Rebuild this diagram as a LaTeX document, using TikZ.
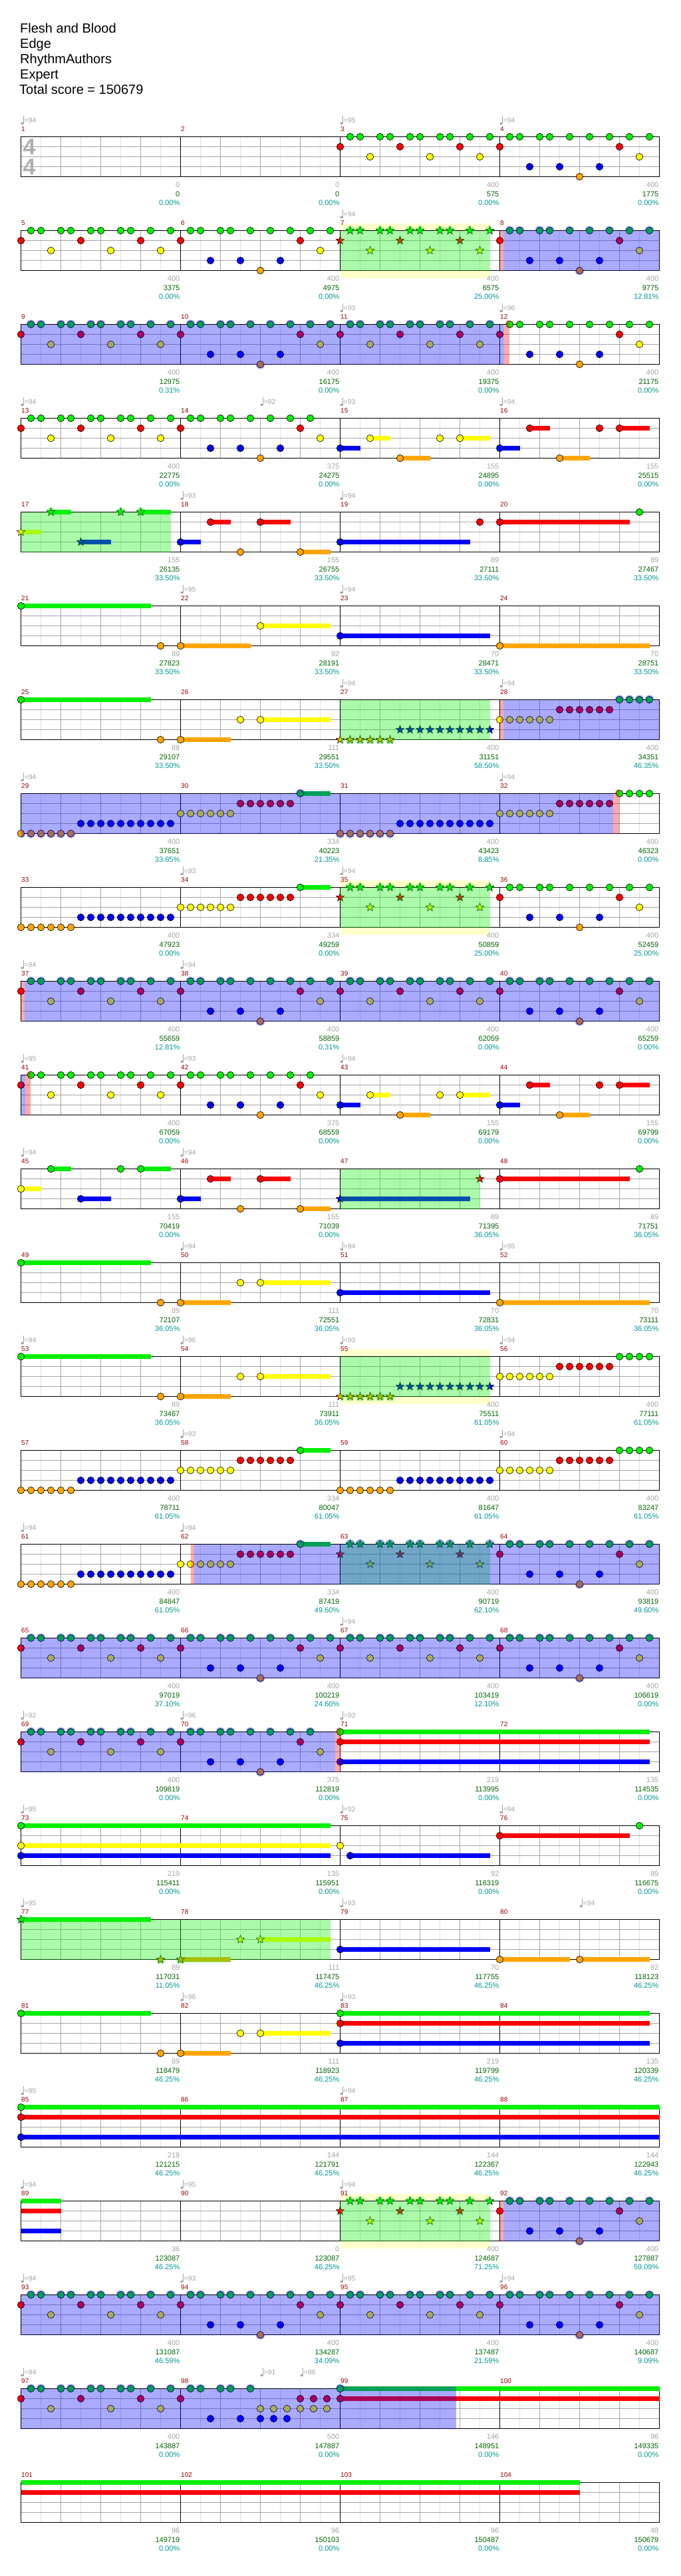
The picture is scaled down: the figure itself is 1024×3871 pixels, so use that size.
\documentclass[tikz,border=0pt]{standalone}
\usepackage{fontspec}
\setmainfont{Liberation Sans}
\usetikzlibrary{shapes.geometric}

\definecolor{fretG}{RGB}{0,240,0}
\definecolor{fretR}{RGB}{255,0,0}
\definecolor{fretY}{RGB}{255,255,0}
\definecolor{fretB}{RGB}{0,0,255}
\definecolor{fretO}{RGB}{255,165,0}
\definecolor{barred}{RGB}{150,0,0}
\definecolor{labelgray}{RGB}{165,165,165}
\definecolor{scoregreen}{RGB}{0,100,0}
\definecolor{pctteal}{RGB}{0,150,150}
\definecolor{phrasebg}{RGB}{255,255,204}
\definecolor{gridlight}{RGB}{225,225,225}
\definecolor{gridmid}{RGB}{165,165,165}
\definecolor{sigray}{RGB}{175,175,175}

% lane heights inside a staff
\def\laneG{0}\def\laneR{15}\def\laneY{30}\def\laneB{45}\def\laneO{60}
\newcommand{\lanepos}[1]{\csname lane#1\endcsname}

% star power zones of the current row
\newcommand{\rowzones}{}
\newcommand{\zonefill}[3]{\fill[#1] (#2,\zya) rectangle (#3,\zyb);}
\newcommand{\tintedge}{\def\zya{-9}\def\zyb{0}\rowzones\def\zya{60}\def\zyb{69}\rowzones}
\newcommand{\tintstaff}{\def\zya{0}\def\zyb{60}\rowzones}

\newcommand{\notes}[4][nt]{%
  \foreach \p in {#4}{%
    \pgfmathsetmacro{\px}{240*#2+\p}%
    \node[#1, fill=fret#3] (note) at (\px,\lanepos{#3}) {};
    \begin{scope}
      \clip (\px,\lanepos{#3}) circle[radius=7pt];
      \tintedge
    \end{scope}
  }}
\newcommand{\sus}[4]{%
  \pgfmathsetmacro{\xa}{240*#1+#3}%
  \pgfmathsetmacro{\xb}{240*#1+#4}%
  \pgfmathsetmacro{\ly}{\lanepos{#2}}%
  \fill[fret#2] (\xa,\ly-3.5) rectangle (\xb,\ly+3.5);
  \begin{scope}
    \clip (\xa,\ly-3.5) rectangle (\xb,\ly+3.5);
    \tintedge
  \end{scope}}
\newcommand{\hold}[3]{\sus{#1}{#2}{0}{#3}\notes{#1}{#2}{0}}

% riffs that repeat through the chart
\newcommand{\riffA}[2][nt]{%
  \notes[#1]{#2}{G}{15,30,60,75,105,120,150,165,195,225}%
  \notes[#1]{#2}{R}{0,90,180}\notes[#1]{#2}{Y}{45,135,210}}
\newcommand{\riffB}[1]{%
  \notes{#1}{G}{15,30,60,75,105,135,165,195,225}%
  \notes{#1}{R}{0,180}\notes{#1}{Y}{210}\notes{#1}{B}{45,90,150}\notes{#1}{O}{120}}
\newcommand{\riffBcut}[1]{%
  \notes{#1}{G}{15,30,60,75,105,135,165,195}%
  \notes{#1}{R}{0,180}\notes{#1}{Y}{210}\notes{#1}{B}{45,90,150}\notes{#1}{O}{120}}
\newcommand{\riffC}[1]{%
  \sus{#1}{B}{0}{30}\sus{#1}{Y}{45}{75}\sus{#1}{O}{90}{135}\sus{#1}{Y}{180}{225}%
  \notes{#1}{B}{0}\notes{#1}{Y}{45,150,180}\notes{#1}{O}{90}}
\newcommand{\riffD}[1]{%
  \sus{#1}{B}{0}{30}\sus{#1}{R}{45}{75}\sus{#1}{O}{90}{135}\sus{#1}{R}{180}{225}%
  \notes{#1}{B}{0}\notes{#1}{R}{45,150,180}\notes{#1}{O}{90}}
\newcommand{\riffE}[2][nt]{%
  \sus{#2}{Y}{0}{30}\sus{#2}{G}{45}{75}\sus{#2}{B}{90}{135}\sus{#2}{G}{180}{225}%
  \notes[#1]{#2}{Y}{0}\notes[#1]{#2}{G}{45,150,180}\notes[#1]{#2}{B}{90}}
\newcommand{\riffF}[1]{%
  \sus{#1}{B}{0}{30}\sus{#1}{R}{45}{75}\sus{#1}{R}{120}{165}\sus{#1}{O}{180}{225}%
  \notes{#1}{B}{0}\notes{#1}{R}{45,120}\notes{#1}{O}{90,180}}
\newcommand{\riffG}[1]{\sus{#1}{G}{0}{195}\notes{#1}{G}{0}\notes{#1}{O}{210}}
\newcommand{\riffH}[1]{%
  \sus{#1}{O}{0}{75}\sus{#1}{Y}{120}{225}\notes{#1}{O}{0}\notes{#1}{Y}{90,120}}
\newcommand{\riffK}[1]{%
  \notes{#1}{Y}{0,15,...,75}\notes{#1}{R}{90,105,...,165}\notes{#1}{G}{180,195,210,225}}
\newcommand{\riffL}[2][nt]{\notes[#1]{#2}{O}{0,15,...,75}\notes[#1]{#2}{B}{90,105,...,225}}
\newcommand{\riffM}[1]{%
  \sus{#1}{G}{180}{225}\notes{#1}{Y}{0,15,...,75}\notes{#1}{R}{90,105,...,165}\notes{#1}{G}{180}}

\newcommand{\staff}[1]{%
  \fill[white] (0,0) rectangle (960,60);
  \foreach \x in {30,90,...,930} \draw[gridlight, line width=0.8pt] (\x,0) -- (\x,60);
  \foreach \x in {60,120,...,900} \draw[gridmid, line width=0.8pt] (\x,0) -- (\x,60);
  \foreach \y in {15,30,45} \draw[gridmid, line width=1.1pt] (0,\y) -- (960,\y);
  \foreach \x in {240,480,720} \draw[black, line width=0.8pt] (\x,0) -- (\x,60);
  \draw[black, line width=1.3pt] (0,0) rectangle (960,60);
  \foreach \j in {0,...,3}{%
    \pgfmathtruncatemacro{\m}{#1+\j}%
    \node[barno] (bar\m) at (240*\j+0.5,-8) {\m};}}
\newcommand{\phrase}[2]{\fill[phrasebg] (#1,-10.5) rectangle (#2,71);}
\newcommand{\bpm}[2]{%
  \fill[labelgray] (#1+2,-20) ellipse[x radius=2.2pt, y radius=1.7pt];
  \draw[labelgray, line width=0.6pt] (#1+4,-20) -- (#1+4,-31.5);
  \node[bpmtext] (bpm#1) at (#1+5,-21) {=#2};}
\newcommand{\scorerow}[1]{%
  \foreach \a/\b/\c [count=\j] in {#1}{%
    \node[ptstext] (pts\j) at (240*\j-1,76) {\a};
    \node[scoretext] (score\j) at (240*\j-1,89.5) {\b};
    \node[pcttext] (pct\j) at (240*\j-1,102.5) {\c\%};}}

\begin{document}
\begin{tikzpicture}[
  x=1pt, y=-1pt,
  nt/.style={circle, draw=black, line width=0.6pt, minimum size=10.5pt, inner sep=0pt},
  st/.style={star, star points=5, star point ratio=2.3, draw=black, line width=0.5pt, minimum size=13pt, inner sep=0pt},
  rowat/.style={shift={(31.5,{205.5+141*#1})}},
  titletext/.style={anchor=base west, inner sep=0pt, font=\fontsize{20}{22}\selectfont},
  barno/.style={anchor=base west, inner sep=0pt, text=barred, font=\fontsize{10}{11}\selectfont},
  bpmtext/.style={anchor=base west, inner sep=0pt, text=labelgray, font=\fontsize{10.5}{11}\selectfont},
  ptstext/.style={anchor=base east, inner sep=0pt, text=labelgray, font=\fontsize{11}{12}\selectfont},
  scoretext/.style={anchor=base east, inner sep=0pt, text=scoregreen, font=\fontsize{11}{12}\selectfont},
  pcttext/.style={anchor=base east, inner sep=0pt, text=pctteal, font=\fontsize{11}{12}\selectfont},
  timesig/.style={inner sep=0pt, text=sigray, font=\fontsize{34}{34}\selectfont\bfseries},
  spzone/.style={fill=fretG, fill opacity=0.333},
  sazone/.style={fill=fretB, fill opacity=0.333},
  strip/.style={fill=fretR, fill opacity=0.333}
]
\useasboundingbox (0,0) rectangle (1024,3871);
\fill[white] (0,0) rectangle (1024,3871);

\node[titletext] (song) at (30,49) {Flesh and Blood};
\node[titletext] (chart) at (30,72) {Edge};
\node[titletext] (author) at (30,95) {RhythmAuthors};
\node[titletext] (level) at (30,118) {Expert};
\node[titletext] (total) at (29,141) {Total score = 150679};

% measures 1-4
\begin{scope}[rowat=0]
  \staff{1}
  \node[timesig] (sigtop) at (12.5,15.5) {4};
  \node[timesig] (sigbottom) at (12.5,45.5) {4};
  \bpm{0}{94}\bpm{480}{95}\bpm{720}{94}
  \riffA{2}\riffB{3}
  \scorerow{0/0/0.00, 0/0/0.00, 400/575/0.00, 400/1775/0.00}
\end{scope}

% measures 5-8
\begin{scope}[rowat=1]
  \renewcommand{\rowzones}{\zonefill{spzone}{480}{705}\zonefill{sazone}{725}{960}\zonefill{strip}{720}{725}}
  \phrase{480}{705}
  \staff{5}
  \bpm{480}{94}
  \riffA{0}\riffB{1}\riffA[st]{2}\riffB{3}
  \tintstaff
  \scorerow{400/3375/0.00, 400/4975/0.00, 400/6575/25.00, 400/9775/12.81}
\end{scope}

% measures 9-12
\begin{scope}[rowat=2]
  \renewcommand{\rowzones}{\zonefill{sazone}{0}{726}\zonefill{strip}{726}{734}}
  \staff{9}
  \bpm{480}{93}\bpm{720}{96}
  \riffA{0}\riffB{1}\riffA{2}\riffB{3}
  \tintstaff
  \scorerow{400/12975/0.31, 400/16175/0.00, 400/19375/0.00, 400/21175/0.00}
\end{scope}

% measures 13-16
\begin{scope}[rowat=3]
  \staff{13}
  \bpm{0}{94}\bpm{360}{92}\bpm{480}{93}\bpm{720}{94}
  \riffA{0}\riffBcut{1}\riffC{2}\riffD{3}
  \scorerow{400/22775/0.00, 375/24275/0.00, 155/24895/0.00, 155/25515/0.00}
\end{scope}

% measures 17-20
\begin{scope}[rowat=4]
  \renewcommand{\rowzones}{\zonefill{spzone}{0}{225}}
  \staff{17}
  \bpm{240}{93}\bpm{480}{94}
  \riffE[st]{0}\riffF{1}
  \hold{2}{B}{195}\notes{2}{R}{210}
  \hold{3}{R}{195}\notes{3}{G}{210}
  \tintstaff
  \scorerow{155/26135/33.50, 155/26755/33.50, 89/27111/33.50, 89/27467/33.50}
\end{scope}

% measures 21-24
\begin{scope}[rowat=5]
  \staff{21}
  \bpm{240}{95}\bpm{480}{94}
  \riffG{0}
  \sus{1}{O}{0}{105}\sus{1}{Y}{120}{225}\notes{1}{O}{0}\notes{1}{Y}{120}
  \hold{2}{B}{225}\hold{3}{O}{225}
  \scorerow{89/27823/33.50, 92/28191/33.50, 70/28471/33.50, 70/28751/33.50}
\end{scope}

% measures 25-28
\begin{scope}[rowat=6]
  \renewcommand{\rowzones}{\zonefill{spzone}{480}{705}\zonefill{sazone}{725}{960}\zonefill{strip}{720}{725}}
  \staff{25}
  \bpm{480}{94}\bpm{720}{94}
  \riffG{0}\riffH{1}\riffL[st]{2}\riffK{3}
  \tintstaff
  \scorerow{89/29107/33.50, 111/29551/33.50, 400/31151/58.50, 400/34351/46.35}
\end{scope}

% measures 29-32
\begin{scope}[rowat=7]
  \renewcommand{\rowzones}{\zonefill{sazone}{0}{890}\zonefill{strip}{890}{899}}
  \staff{29}
  \bpm{0}{94}\bpm{720}{94}
  \riffL{0}\riffM{1}\riffL{2}\riffK{3}
  \tintstaff
  \scorerow{400/37651/33.85, 334/40223/21.35, 400/43423/8.85, 400/46323/0.00}
\end{scope}

% measures 33-36
\begin{scope}[rowat=8]
  \renewcommand{\rowzones}{\zonefill{spzone}{480}{705}}
  \phrase{480}{705}
  \staff{33}
  \bpm{240}{93}\bpm{480}{94}
  \riffL{0}\riffM{1}\riffA[st]{2}\riffB{3}
  \tintstaff
  \scorerow{400/47923/0.00, 334/49259/0.00, 400/50859/25.00, 400/52459/25.00}
\end{scope}

% measures 37-40
\begin{scope}[rowat=9]
  \renewcommand{\rowzones}{\zonefill{sazone}{5}{960}\zonefill{strip}{0}{5}}
  \staff{37}
  \bpm{0}{94}\bpm{240}{94}
  \riffA{0}\riffB{1}\riffA{2}\riffB{3}
  \tintstaff
  \scorerow{400/55659/12.81, 400/58859/0.31, 400/62059/0.00, 400/65259/0.00}
\end{scope}

% measures 41-44
\begin{scope}[rowat=10]
  \renewcommand{\rowzones}{\zonefill{sazone}{0}{6}\zonefill{strip}{6}{14}}
  \staff{41}
  \bpm{0}{95}\bpm{240}{93}\bpm{480}{94}
  \riffA{0}\riffBcut{1}\riffC{2}\riffD{3}
  \tintstaff
  \scorerow{400/67059/0.00, 375/68559/0.00, 155/69179/0.00, 155/69799/0.00}
\end{scope}

% measures 45-48
\begin{scope}[rowat=11]
  \renewcommand{\rowzones}{\zonefill{spzone}{480}{690}}
  \staff{45}
  \bpm{0}{94}\bpm{240}{94}
  \riffE{0}\riffF{1}
  \sus{2}{B}{0}{195}\notes[st]{2}{B}{0}\notes[st]{2}{R}{210}
  \hold{3}{R}{195}\notes{3}{G}{210}
  \tintstaff
  \scorerow{155/70419/0.00, 155/71039/0.00, 89/71395/36.05, 89/71751/36.05}
\end{scope}

% measures 49-52
\begin{scope}[rowat=12]
  \staff{49}
  \bpm{240}{94}\bpm{480}{94}\bpm{720}{95}
  \riffG{0}\riffH{1}\hold{2}{B}{225}\hold{3}{O}{225}
  \scorerow{89/72107/36.05, 111/72551/36.05, 70/72831/36.05, 70/73111/36.05}
\end{scope}

% measures 53-56
\begin{scope}[rowat=13]
  \renewcommand{\rowzones}{\zonefill{spzone}{480}{705}}
  \phrase{480}{705}
  \staff{53}
  \bpm{0}{94}\bpm{240}{96}\bpm{480}{93}\bpm{720}{94}
  \riffG{0}\riffH{1}\riffL[st]{2}\riffK{3}
  \tintstaff
  \scorerow{89/73467/36.05, 111/73911/36.05, 400/75511/61.05, 400/77111/61.05}
\end{scope}

% measures 57-60
\begin{scope}[rowat=14]
  \staff{57}
  \bpm{240}{93}\bpm{720}{94}
  \riffL{0}\riffM{1}\riffL{2}\riffK{3}
  \scorerow{400/78711/61.05, 334/80047/61.05, 400/81647/61.05, 400/83247/61.05}
\end{scope}

% measures 61-64
\begin{scope}[rowat=15]
  \renewcommand{\rowzones}{\zonefill{spzone}{480}{705}\zonefill{sazone}{260}{960}\zonefill{strip}{255}{260}}
  \staff{61}
  \bpm{0}{94}\bpm{240}{94}
  \riffL{0}\riffM{1}\riffA[st]{2}\riffB{3}
  \tintstaff
  \scorerow{400/84847/61.05, 334/87419/49.60, 400/90719/62.10, 400/93819/49.60}
\end{scope}

% measures 65-68
\begin{scope}[rowat=16]
  \renewcommand{\rowzones}{\zonefill{sazone}{0}{960}}
  \staff{65}
  \bpm{480}{94}
  \riffA{0}\riffB{1}\riffA{2}\riffB{3}
  \tintstaff
  \scorerow{400/97019/37.10, 400/100219/24.60, 400/103419/12.10, 400/106619/0.00}
\end{scope}

% measures 69-72
\begin{scope}[rowat=17]
  \renewcommand{\rowzones}{\zonefill{sazone}{0}{472}\zonefill{strip}{472}{480}}
  \staff{69}
  \bpm{0}{92}\bpm{240}{96}\bpm{480}{93}
  \riffA{0}\riffBcut{1}
  \hold{2}{G}{465}\hold{2}{R}{465}\hold{2}{B}{465}
  \tintstaff
  \scorerow{400/109819/0.00, 375/112819/0.00, 219/113995/0.00, 135/114535/0.00}
\end{scope}

% measures 73-76
\begin{scope}[rowat=18]
  \staff{73}
  \bpm{0}{95}\bpm{480}{92}\bpm{720}{94}
  \hold{0}{G}{465}\hold{0}{Y}{465}\hold{0}{B}{465}
  \notes{2}{Y}{0}\sus{2}{B}{15}{225}\notes{2}{B}{15}
  \hold{3}{R}{195}\notes{3}{G}{210}
  \scorerow{219/115411/0.00, 135/115951/0.00, 92/116319/0.00, 89/116675/0.00}
\end{scope}

% measures 77-80
\begin{scope}[rowat=19]
  \renewcommand{\rowzones}{\zonefill{spzone}{0}{465}}
  \staff{77}
  \bpm{0}{95}\bpm{480}{93}\bpm{840}{94}
  \sus{0}{G}{0}{195}\notes[st]{0}{G}{0}\notes[st]{0}{O}{210}
  \sus{1}{O}{0}{75}\sus{1}{Y}{120}{225}\notes[st]{1}{O}{0}\notes[st]{1}{Y}{90,120}
  \hold{2}{B}{225}
  \sus{3}{O}{0}{105}\sus{3}{O}{120}{225}\notes{3}{O}{0,120}
  \tintstaff
  \scorerow{89/117031/11.05, 111/117475/46.25, 70/117755/46.25, 92/118123/46.25}
\end{scope}

% measures 81-84
\begin{scope}[rowat=20]
  \staff{81}
  \bpm{240}{96}\bpm{480}{93}
  \riffG{0}\riffH{1}
  \hold{2}{G}{465}\hold{2}{R}{465}\hold{2}{B}{465}
  \scorerow{89/118479/46.25, 111/118923/46.25, 219/119799/46.25, 135/120339/46.25}
\end{scope}

% measures 85-88
\begin{scope}[rowat=21]
  \staff{85}
  \bpm{0}{95}\bpm{480}{94}
  \hold{0}{G}{960}\hold{0}{R}{960}\hold{0}{B}{960}
  \scorerow{219/121215/46.25, 144/121791/46.25, 144/122367/46.25, 144/122943/46.25}
\end{scope}

% measures 89-92
\begin{scope}[rowat=22]
  \renewcommand{\rowzones}{\zonefill{spzone}{480}{705}\zonefill{sazone}{725}{960}\zonefill{strip}{720}{725}}
  \phrase{480}{705}
  \staff{89}
  \bpm{0}{94}\bpm{240}{95}\bpm{480}{94}
  \sus{0}{G}{0}{60}\sus{0}{R}{0}{60}\sus{0}{B}{0}{60}
  \riffA[st]{2}\riffB{3}
  \tintstaff
  \scorerow{36/123087/46.25, 0/123087/46.25, 400/124687/71.25, 400/127887/59.09}
\end{scope}

% measures 93-96
\begin{scope}[rowat=23]
  \renewcommand{\rowzones}{\zonefill{sazone}{0}{960}}
  \staff{93}
  \bpm{0}{94}\bpm{240}{93}\bpm{480}{95}\bpm{720}{94}
  \riffA{0}\riffB{1}\riffA{2}\riffB{3}
  \tintstaff
  \scorerow{400/131087/46.59, 400/134287/34.09, 400/137487/21.59, 400/140687/9.09}
\end{scope}

% measures 97-100
\begin{scope}[rowat=24]
  \renewcommand{\rowzones}{\zonefill{sazone}{0}{654}}
  \staff{97}
  \bpm{0}{94}\bpm{360}{91}\bpm{420}{86}
  \riffA{0}
  \notes{1}{G}{15,30,60,75,105}\notes{1}{R}{0,180,200,220}
  \notes{1}{Y}{120,140,160,180,200,220}\notes{1}{B}{45,90,120,140,160}
  \hold{2}{G}{480}\hold{2}{R}{480}
  \tintstaff
  \scorerow{400/143887/0.00, 500/147887/0.00, 146/148951/0.00, 96/149335/0.00}
\end{scope}

% measures 101-104
\begin{scope}[rowat=25]
  \staff{101}
  \sus{0}{G}{0}{840}\sus{0}{R}{0}{840}
  \scorerow{96/149719/0.00, 96/150103/0.00, 96/150487/0.00, 48/150679/0.00}
\end{scope}
\end{tikzpicture}
\end{document}
